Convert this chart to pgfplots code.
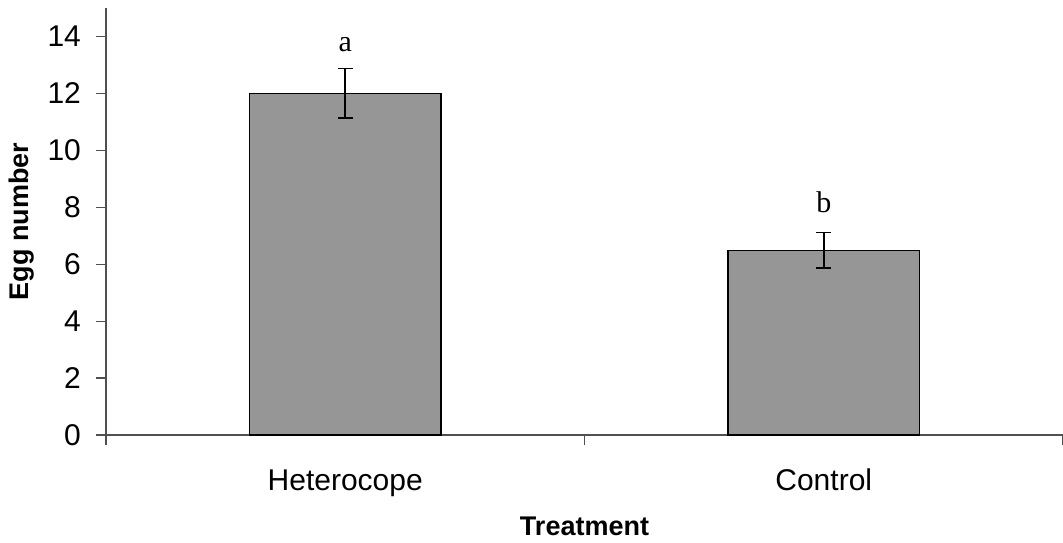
\documentclass[border=0pt]{standalone}
\usepackage{pgfplots}
\pgfplotsset{compat=1.18}
\usepackage{fontspec}
\setmainfont{Liberation Sans}
\newfontfamily\timesfont{Liberation Serif}
\definecolor{bargray}{RGB}{150,150,150}
\definecolor{axgray}{RGB}{80,80,80}
\begin{document}
\begin{tikzpicture}
\useasboundingbox (-53pt,-53.5pt) rectangle (478.5pt,217.5pt);
\begin{axis}[
  at={(0,0)}, anchor=south west,
  scale only axis,
  width=478.5pt, height=213.5pt,
  xmin=-0.5, xmax=1.5,
  ymin=0, ymax=15,
  axis x line=bottom, axis y line=left,
  axis line style={axgray, line width=0.6pt, -},
  tick align=outside,
  major tick length=5pt,
  every tick/.style={axgray, line width=0.6pt},
  xtick={-0.5,0.5,1.5},
  xticklabels={},
  extra x ticks={0,1},
  extra x tick labels={Heterocope,Control},
  extra x tick style={major tick length=0pt},
  ytick={0,2,...,14},
  /pgf/number format/assume math mode=true,
  tick label style={font=\fontsize{15}{18}\selectfont},
  xticklabel style={anchor=base, yshift=-27.5pt},
  yticklabel style={anchor=east, xshift=-4pt},
  ylabel={Egg number},
  ylabel style={at={(axis description cs:-0.0878,0.5)}, anchor=center, font=\bfseries\fontsize{13.5}{16}\selectfont},
  xlabel={Treatment},
  xlabel style={at={(axis description cs:0.5,0)}, anchor=base, yshift=-50pt, font=\bfseries\fontsize{13.5}{16}\selectfont},
  clip=false,
]
\addplot[ybar, bar width=0.4, fill=bargray, draw=black, line width=0.6pt,
  error bars/.cd, y dir=both, y explicit,
  error bar style={black, line width=0.8pt},
  error mark options={rotate=90, mark size=3.7pt, black, line width=0.8pt}]
  coordinates {(0,12.0) +- (0,0.87) (1,6.49) +- (0,0.63)};
\node[anchor=base, font=\timesfont\fontsize{15}{18}\selectfont] at (axis cs:0,13.46) {a};
\node[anchor=base, font=\timesfont\fontsize{15}{18}\selectfont] at (axis cs:1,7.80) {b};
\end{axis}
\end{tikzpicture}
\end{document}
